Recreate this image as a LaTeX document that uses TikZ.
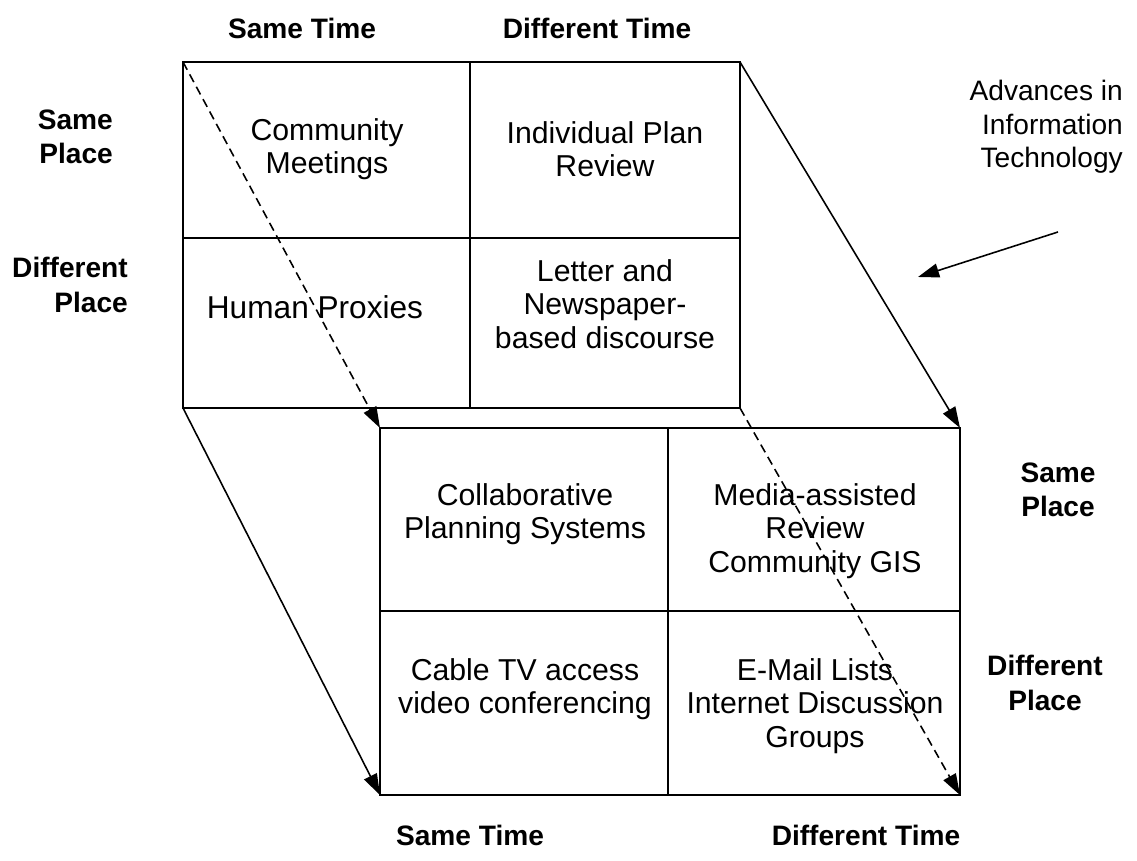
\documentclass[tikz,border=0pt]{standalone}
\usepackage{fontspec}
\setmainfont{Liberation Sans}
\usetikzlibrary{arrows.meta}

\begin{document}
\begin{tikzpicture}[x=0.02cm, y=-0.02cm,
			cell/.style={align=center, font=\fontsize{17.2}{19}\selectfont},
			head/.style={align=center, font=\bfseries\fontsize{16}{19.5}\selectfont},
			grid/.style={line width=1.4pt},
			arr/.style={-{Triangle[length=12pt, width=8pt]}, line width=0.9pt},
			darr/.style={arr, dash pattern=on 5pt off 3pt}
			]
			\useasboundingbox (0,0) rectangle (1137,861);
			
			% corners of the two grids
			\coordinate (oldtl) at (183,62);
			\coordinate (oldtr) at (740,62);
			\coordinate (oldbl) at (183,408);
			\coordinate (oldbr) at (740,408);
			\coordinate (newtl) at (380,428);
			\coordinate (newtr) at (960,428);
			\coordinate (newbl) at (380,795);
			\coordinate (newbr) at (960,795);
			
			% old grid
			\draw[grid] (oldtl) rectangle (oldbr);
			\draw[grid] (470,62) -- (470,408);
			\draw[grid] (183,238) -- (740,238);
			% new grid
			\draw[grid] (newtl) rectangle (newbr);
			\draw[grid] (668,428) -- (668,795);
			\draw[grid] (380,611) -- (960,611);
			
			\node[cell] (meet)   at (327,149) {Community\\Meetings};
			\node[cell] (review) at (605,149) {Individual Plan\\Review};
			\node[cell, font=\fontsize{18}{21}\selectfont] (proxy) at (315,307) {Human Proxies};
			\node[cell] (letter) at (605,304) {Letter and\\Newspaper-\\based discourse};
			
			\node[cell] (collab) at (525,514) {Collaborative\\Planning Systems};
			\node[cell] (media)  at (815,531) {Media-assisted\\Review\\Community GIS};
			\node[cell] (cable)  at (525,689) {Cable TV access\\video conferencing};
			\node[cell] (email)  at (815,706) {E-Mail Lists\\Internet Discussion\\Groups};
			
			% axis labels
			\node[head] (st1) at (302,28) {Same Time};
			\node[head] (dt1) at (597,28) {Different Time};
			\node[head, align=right, anchor=east] (sp1) at (119,137) {Same\\Place};
			\node[head, align=right, anchor=east] (dp1) at (134,285) {Different\\Place};
			\node[head] (st2) at (470,835) {Same Time};
			\node[head] (dt2) at (866,835) {Different Time};
			\node[head] (sp2) at (1058,490) {Same\\Place};
			\node[head] (dp2) at (1045,683) {Different\\Place};
			
			\node[cell, align=right, anchor=east, font=\fontsize{16}{19}\selectfont] (adv) at (1129,127) {Advances in\\Information\\Technology};
			\coordinate (advfrom) at (1058,232);
			\coordinate (advto)   at (918,277);
			
			\draw[darr] (oldtl) -- (newtl);
			\draw[arr]  (oldtr) -- (newtr);
			\draw[arr]  (oldbl) -- (newbl);
			\draw[darr] (oldbr) -- (newbr);
			\draw[arr]  (advfrom) -- (advto);
		\end{tikzpicture}
\end{document}
